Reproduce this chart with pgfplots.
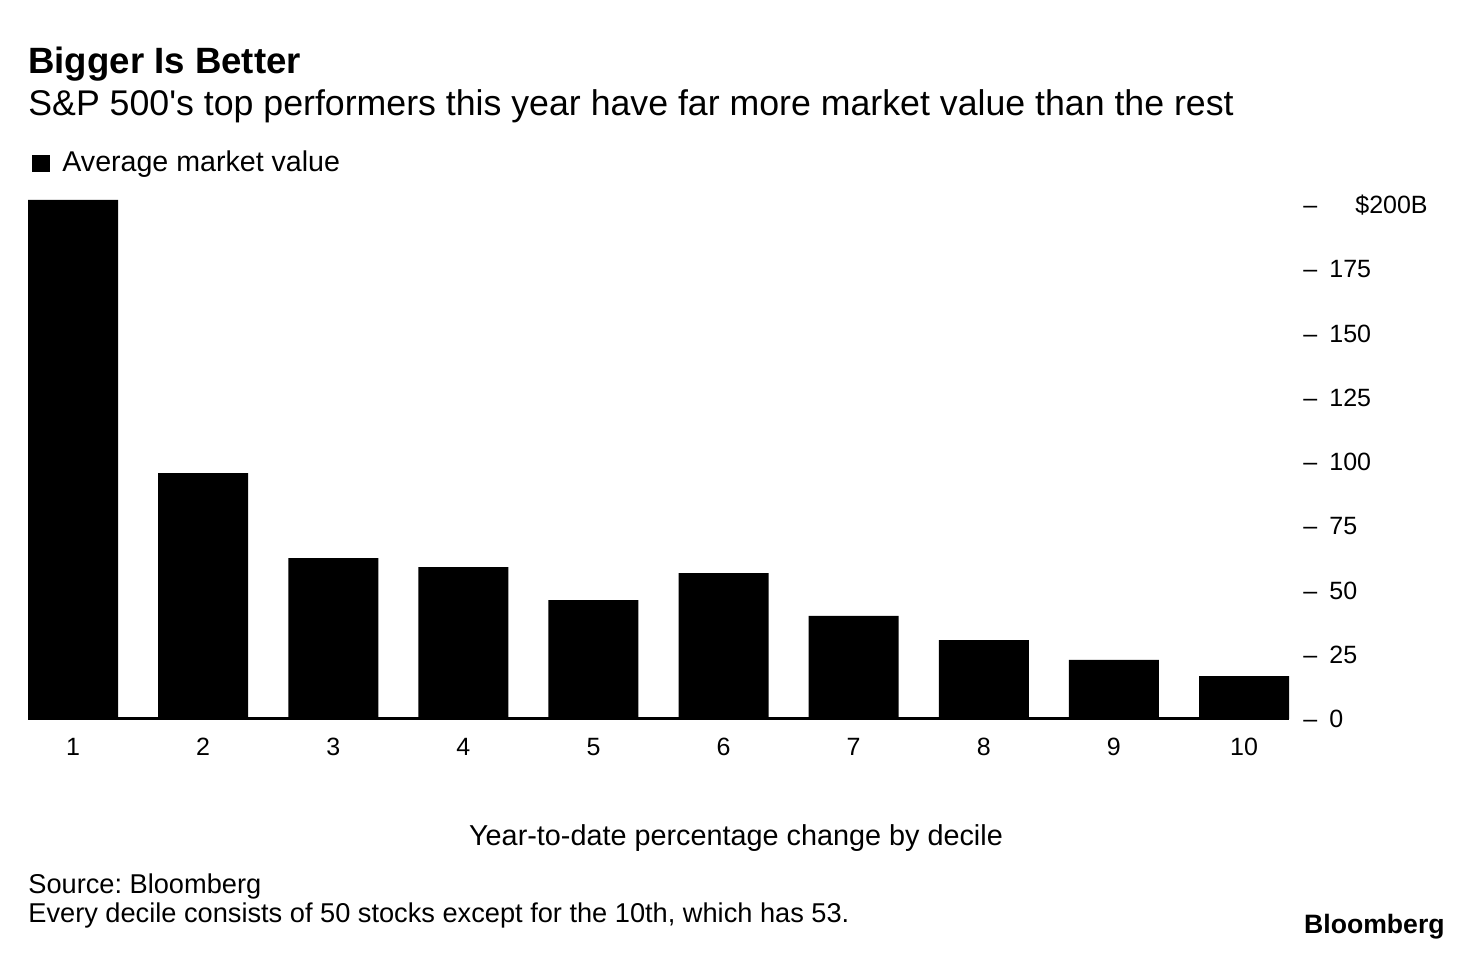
\documentclass[border=0pt]{standalone}
\usepackage{fontspec}
\setmainfont{Liberation Sans}[Ligatures=TeXOff]
\usepackage{pgfplots}
\usepackage{pgfplotstable}
\pgfplotsset{compat=1.18}

% average market value by YTD performance decile, $B
\pgfplotstableread{
decile value
1  202
2  95.7
3  62.6
4  59.1
5  46.3
6  56.8
7  40.1
8  30.7
9  23.0
10 16.7
}\deciles

\begin{document}
\frenchspacing
\begin{tikzpicture}[x=0.5bp,y=0.5bp]
% 1 unit = 1 px of the 1473x952 reference, origin bottom left
\path[use as bounding box] (0,0) rectangle (1473,952);

\node[anchor=base west,inner sep=0,font=\fontsize{18.3bp}{20bp}\selectfont\bfseries] at (28,878) {Bigger Is Better};
\node[anchor=base west,inner sep=0,font=\fontsize{17.85bp}{20bp}\selectfont] at (28,836) {S\&P 500's top performers this year have far more market value than the rest};

\fill (32,780) rectangle (50,797);
\node[anchor=base west,inner sep=0,font=\fontsize{14.3bp}{16bp}\selectfont] at (62,780) {Average market value};

\begin{axis}[
  at={(14bp,116.5bp)}, anchor=south west,
  scale only axis, width=630.5bp, height=257bp,
  xmin=0.6538, xmax=10.3462, ymin=0, ymax=200,
  clip=false,
  ybar, bar width=45bp,
  axis x line*=bottom, axis y line*=right,
  x axis line style={-, line width=1.5bp},
  y axis line style={draw=none},
  major tick length=0, tick style={draw=none},
  /pgf/number format/assume math mode=true,
  xtick={1,...,10},
  xticklabel style={anchor=base, inner sep=0, yshift=-18.5bp, font=\fontsize{12.5bp}{14bp}\selectfont},
  ytick={0,25,...,200},
  yticklabels={–\hspace{6bp}0, –\hspace{6bp}25, –\hspace{6bp}50, –\hspace{6bp}75, –\hspace{6bp}100, –\hspace{6bp}125, –\hspace{6bp}150, –\hspace{6bp}175, –\hspace{19bp}\$200B},
  yticklabel style={anchor=west, inner sep=0, xshift=7bp, font=\fontsize{12.5bp}{14bp}\selectfont},
]
\addplot[fill=black, draw=none] table[x=decile, y=value] {\deciles};
\end{axis}

\node[anchor=base,inner sep=0,font=\fontsize{14.4bp}{16bp}\selectfont] at (736,107) {Year-to-date percentage change by decile};
\node[anchor=base west,inner sep=0,font=\fontsize{13.6bp}{15bp}\selectfont] at (28,59) {Source: Bloomberg};
\node[anchor=base west,inner sep=0,font=\fontsize{13.6bp}{15bp}\selectfont] at (28,30) {Every decile consists of 50 stocks except for the 10th, which has 53.};
\node[anchor=base east,inner sep=0,font=\fontsize{13.3bp}{15bp}\selectfont\bfseries] at (1445,19) {Bloomberg};
\end{tikzpicture}
\end{document}
